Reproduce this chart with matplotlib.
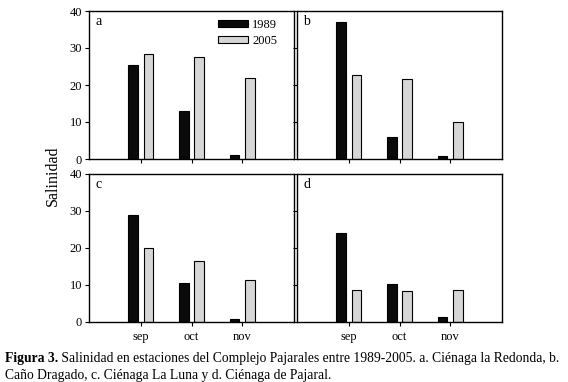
import matplotlib
matplotlib.use("Agg")
import matplotlib.pyplot as plt
import numpy as np

plt.rcParams['font.family'] = ['Liberation Serif', 'DejaVu Serif']

# --- Data ---
meses = ['sep', 'oct', 'nov']
paneles = ['a', 'b', 'c', 'd']
sal_1989 = {
    'a': [25.4, 13.0, 1.1],
    'b': [37.0, 5.9, 0.8],
    'c': [28.8, 10.5, 0.6],
    'd': [24.0, 10.2, 1.3],
}
sal_2005 = {
    'a': [28.3, 27.6, 21.8],
    'b': [22.6, 21.5, 9.9],
    'c': [19.8, 16.4, 11.2],
    'd': [8.5, 8.2, 8.5],
}

W, H = 568, 382
fig = plt.figure(figsize=(W / 100, H / 100), dpi=100)

# axes boxes in pixels: left, top, right, bottom
boxes = {
    'a': (89, 11, 294, 159),
    'b': (297, 11, 502, 159),
    'c': (89, 173.5, 294, 321.5),
    'd': (297, 173.5, 502, 321.5),
}

x = np.arange(1, len(meses) + 1)
bw = 0.185
off = 0.15

for p in paneles:
    l, t, r, b = boxes[p]
    ax = fig.add_axes([l / W, 1 - b / H, (r - l) / W, (b - t) / H])
    ax.bar(x - off, sal_1989[p], bw, color='#0a0a0a', edgecolor='black', linewidth=0.8, label='1989')
    ax.bar(x + off, sal_2005[p], bw, color='#d6d6d6', edgecolor='black', linewidth=0.8, label='2005')
    ax.set_xlim(-0.02, 4.02)
    ax.set_ylim(0, 40)
    ax.set_yticks([0, 10, 20, 30, 40])
    ax.set_xticks(x)
    ax.tick_params(direction='out', length=3, width=0.8, labelsize=9, pad=2)
    ax.tick_params(top=False, right=False)
    for s in ax.spines.values():
        s.set_linewidth(1.0)
    if p in ('a', 'b'):
        ax.set_xticklabels([])
    else:
        ax.set_xticklabels(meses)
        ax.tick_params(axis='x', pad=4)
    if p in ('b', 'd'):
        ax.set_yticklabels([])
    ax.text(0.03, 0.97, p, transform=ax.transAxes, ha='left', va='top', fontsize=10)
    if p == 'a':
        ax.legend(loc='upper left', bbox_to_anchor=(0.6, 0.99), frameon=False,
                  fontsize=9, handlelength=2.4, handleheight=0.45, labelspacing=0.35,
                  borderpad=0, handletextpad=0.3)

fig.text(53 / W, 1 - 176 / H, 'Salinidad', rotation=90, ha='center', va='center', fontsize=11.5)

# caption
cap1 = fig.text(5 / W, 1 - 362 / H, 'Figura 3.', fontsize=9.8, fontweight='bold', ha='left', va='baseline')
fig.add_artist(matplotlib.text.Annotation(
    ' Salinidad en estaciones del Complejo Pajarales entre 1989-2005. a. Ciénaga la Redonda, b.',
    xy=(1, 0), xycoords=cap1, ha='left', va='bottom', fontsize=9.8))
fig.text(5 / W, 1 - 379 / H, 'Caño Dragado, c. Ciénaga La Luna y d. Ciénaga de Pajaral.',
         fontsize=9.8, ha='left', va='baseline')

fig.savefig('out.png', dpi=100)
